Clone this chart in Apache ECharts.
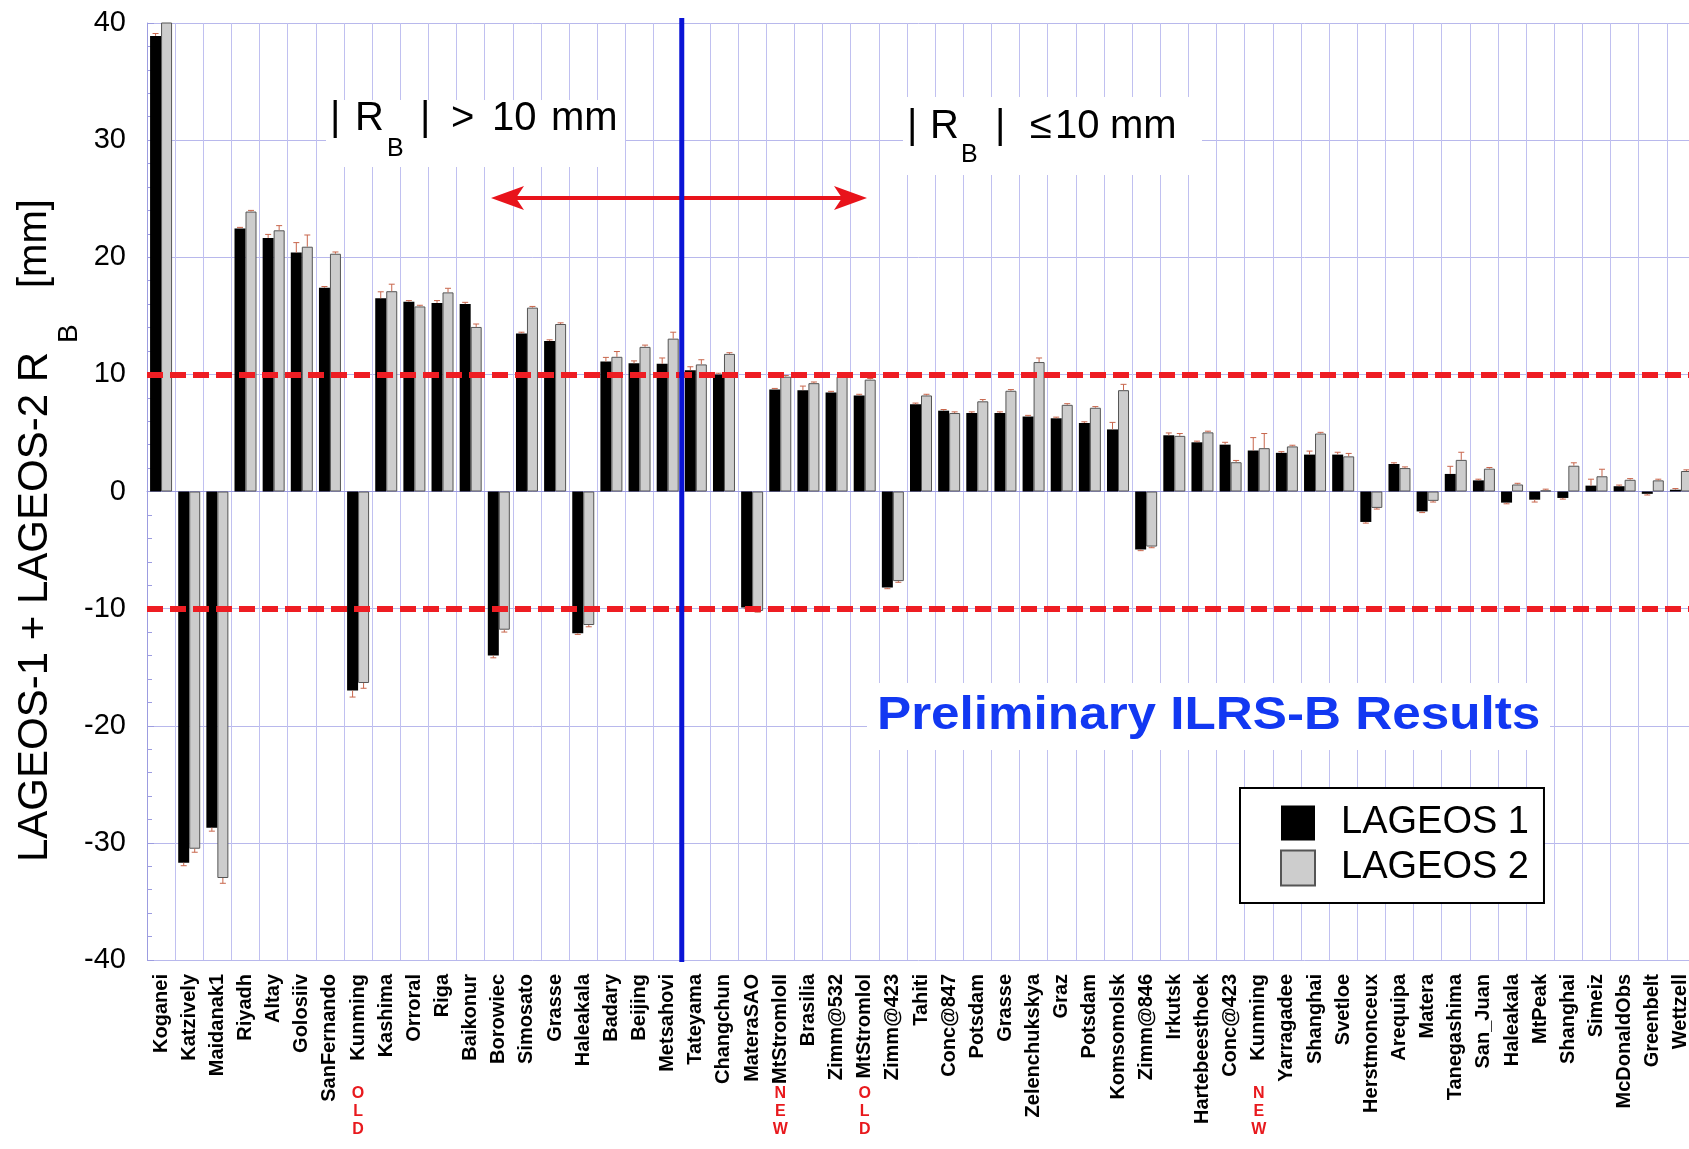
<!DOCTYPE html>
<html><head><meta charset="utf-8">
<script src="https://cdn.jsdelivr.net/npm/echarts@6/dist/echarts.min.js"></script>
<style>html,body{margin:0;padding:0;background:#fff}#c{width:1689px;height:1149px}</style>
</head><body><div id="c"></div>
<script>
// ---------------- DATA ----------------
const categories = ['Koganei','Katzively','Maidanak1','Riyadh','Altay','Golosiiv','SanFernando','Kunming','Kashima','Orroral',
  'Riga','Baikonur','Borowiec','Simosato','Grasse','Haleakala','Badary','Beijing','Metsahovi','Tateyama',
  'Changchun','MateraSAO','MtStromloII','Brasilia','Zimm@532','MtStromlol','Zimm@423','Tahiti','Conc@847','Potsdam',
  'Grasse','Zelenchukskya','Graz','Potsdam','Komsomolsk','Zimm@846','Irkutsk','Hartebeesthoek','Conc@423','Kunming',
  'Yarragadee','Shanghai','Svetloe','Herstmonceux','Arequipa','Matera','Tanegashima','San_Juan','Haleakala','MtPeak',
  'Shanghai','Simeiz','McDonaldObs','Greenbelt','Wettzell'];
const lageos1 = [38.9,-31.7,-28.7,22.45,21.65,20.4,17.4,-17.0,16.5,16.2,
  16.1,16.0,-14.0,13.5,12.85,-12.1,11.1,10.95,10.9,10.35,
  10.0,-9.9,8.7,8.65,8.45,8.2,-8.2,7.45,6.9,6.7,
  6.7,6.4,6.25,5.85,5.3,-4.95,4.8,4.2,4.0,3.5,
  3.3,3.15,3.15,-2.6,2.35,-1.7,1.5,0.95,-0.95,-0.7,
  -0.55,0.5,0.45,-0.2,0.15];
const lageos2 = [40.6,-30.5,-33.0,23.9,22.3,20.9,20.3,-16.35,17.1,15.8,
  17.0,14.05,-11.8,15.7,14.3,-11.4,11.5,12.35,13.05,10.85,
  11.75,-10.2,9.8,9.25,9.8,9.55,-7.65,8.2,6.7,7.7,
  8.6,11.05,7.4,7.15,8.65,-4.7,4.75,5.05,2.5,3.7,
  3.85,4.95,3.0,-1.4,2.0,-0.8,2.7,1.95,0.6,0.1,
  2.2,1.3,1.0,0.95,1.75];
const lageos1Err = [0.2,0.25,0.3,0.1,0.3,0.85,0.1,0.55,0.55,0.1,
  0.2,0.15,0.2,0.1,0.1,0.1,0.35,0.2,0.5,0.3,
  0.1,0.1,0.1,0.35,0.1,0.1,0.1,0.1,0.1,0.1,
  0.1,0.1,0.1,0.1,0.6,0.1,0.2,0.1,0.2,1.1,
  0.1,0.3,0.2,0.1,0.1,0.1,0.65,0.1,0.1,0.2,
  0.1,0.55,0.1,0.1,0.1];
const lageos2Err = [0,0.3,0.45,0.1,0.4,1.0,0.15,0.45,0.6,0.1,
  0.35,0.25,0.2,0.1,0.1,0.15,0.45,0.15,0.55,0.4,
  0.1,0.1,0.1,0.1,0.2,0.1,0.1,0.1,0.1,0.15,
  0.1,0.35,0.1,0.1,0.5,0.1,0.2,0.1,0.15,1.25,
  0.1,0.1,0.25,0.1,0.1,0.1,0.65,0.1,0.1,0.1,
  0.25,0.6,0.1,0.1,0.1];
const yMin = -40, yMax = 40, yInterval = 10;
const thresholds = [10, -10];
const stationNotes = [{index:7,text:'OLD'},{index:22,text:'NEW'},{index:25,text:'OLD'},{index:39,text:'NEW'}];
const splitAfterIndex = 18; // boundary between Metsahovi and Tateyama

// ---------------- STYLE ----------------
const FONT = "'Liberation Sans', Arial, Helvetica, sans-serif";
const BAR_W = 11;
const ERR_C = '#c8664c';
const GRID_C = '#b8b8ec';
const AXIS_C = '#9c9ce0';

function errRenderer(side){
  return function(params, api){
    const i = api.value(0), v = api.value(1), e = api.value(2);
    if (!e) return;
    const dir = v >= 0 ? 1 : -1;
    const p0 = api.coord([i, v]);
    const p1 = api.coord([i, v + dir * e]);
    const x = p0[0] + side * BAR_W / 2;
    return {type:'group', children:[
      {type:'line', shape:{x1:x,y1:p0[1],x2:x,y2:p1[1]}, style:{stroke:ERR_C,lineWidth:1}},
      {type:'line', shape:{x1:x-3,y1:p1[1],x2:x+3,y2:p1[1]}, style:{stroke:ERR_C,lineWidth:1}}
    ]};
  };
}

const chart = echarts.init(document.getElementById('c'), null, {renderer:'canvas'});
chart.setOption({
  animation:false,
  backgroundColor:'#fff',
  grid:{left:147, top:23, width:1548, height:937, containLabel:false, outerBoundsMode:'none'},
  xAxis:{type:'category', data:categories, boundaryGap:true,
    axisLine:{show:true, lineStyle:{color:AXIS_C,width:1}},
    axisTick:{show:false},
    splitLine:{show:true, interval:0, lineStyle:{color:'#c0c0f0',width:1}},
    axisLabel:{interval:0, rotate:90, margin:14, fontFamily:FONT, fontWeight:'bold', fontSize:20, color:'#000'}
  },
  yAxis:{type:'value', min:yMin, max:yMax, interval:yInterval,
    axisLine:{show:true, lineStyle:{color:AXIS_C,width:1}},
    axisTick:{show:true, inside:true, length:7, lineStyle:{color:AXIS_C}},
    minorTick:{show:true, splitNumber:5, length:5, lineStyle:{color:AXIS_C}},
    splitLine:{show:true, lineStyle:{color:GRID_C,width:1}},
    axisLabel:{fontFamily:FONT, fontSize:29, color:'#000', margin:21}
  },
  legend:{orient:'vertical', left:1240, top:788, padding:[16,15,16,40],
    itemWidth:34, itemHeight:35, itemGap:7, icon:'rect', selectedMode:false,
    backgroundColor:'#fff', borderColor:'#000', borderWidth:2,
    textStyle:{fontFamily:FONT, fontSize:38, color:'#000', lineHeight:35, padding:[0,0,0,21]},
    data:['LAGEOS 1','LAGEOS 2']},
  series:[
    {name:'LAGEOS 1', type:'bar', data:lageos1, barWidth:BAR_W, barGap:'0%', clip:true,
      itemStyle:{color:'#000', borderColor:'#000', borderWidth:0}},
    {name:'LAGEOS 2', type:'bar', data:lageos2, barWidth:BAR_W, barGap:'0%', clip:true,
      itemStyle:{color:'#cdcdcd', borderColor:'#555', borderWidth:1}},
    {name:'err1', type:'custom', z:4, silent:true, clip:true,
      data:lageos1.map((v,i)=>[i,v,lageos1Err[i]]), encode:{x:0,y:1}, renderItem:errRenderer(-1)},
    {name:'err2', type:'custom', z:4, silent:true, clip:true,
      data:lageos2.map((v,i)=>[i,v,lageos2Err[i]]), encode:{x:0,y:1}, renderItem:errRenderer(1),
      markLine:{silent:true, symbol:'none', z:6, label:{show:false},
        lineStyle:{color:'#ee1d23', width:6, type:[16,7]},
        data:thresholds.map(t=>({yAxis:t}))}}
  ]
});

// ---------------- ANNOTATIONS ----------------
function txt(x,y,text,size,opts){
  opts = opts || {};
  return {type:'text', x:x, y:y, z:opts.z||20, scaleX:opts.scaleX||1,
    style:{text:text, fontFamily:FONT, fontSize:size, fontWeight:opts.weight||'normal',
      fill:opts.fill||'#000', textAlign:opts.align||'left', align:opts.align||'left',
      textVerticalAlign:opts.valign||'middle', verticalAlign:opts.valign||'middle',
      lineHeight:opts.lineHeight}};
}
const xA = chart.convertToPixel({xAxisIndex:0}, splitAfterIndex);
const xB = chart.convertToPixel({xAxisIndex:0}, splitAfterIndex+1);
const xSplit = (xA + xB) / 2;

const graphics = [
  // white boxes
  {type:'rect', z:1, shape:{x:326,y:100,width:299,height:67}, style:{fill:'#fff'}},
  {type:'rect', z:1, shape:{x:903,y:97,width:299,height:78}, style:{fill:'#fff'}},
  {type:'rect', z:1, shape:{x:867,y:683,width:683,height:67}, style:{fill:'#fff'}},
  // |R_B| > 10 mm
  txt(330,119,'|',40), txt(355,119,'R',40), txt(387,149,'B',25), txt(420,119,'|',40),
  txt(451,119,'>',40), txt(492,119,'10',40), txt(551,119,'mm',40),
  // |R_B| <= 10 mm
  txt(907,126.5,'|',40), txt(930,126.5,'R',40), txt(961,155,'B',25), txt(995,126.5,'|',40),
  txt(1030,126.5,'\u2264',40), txt(1055,126.5,'10',40), txt(1110,126.5,'mm',40),
  // Preliminary
  txt(877,716,'Preliminary ILRS-B Results',47,{weight:'bold', fill:'#1238f2', scaleX:1.09}),
  // y axis title
  {type:'group', x:35, y:862, rotation:Math.PI/2, z:20, children:[
    txt(0,0,'LAGEOS-1 + LAGEOS-2 R',42),
    txt(519,34,'B',28),
    txt(574,0,'[mm]',40)
  ]},
  // red double arrow
  {type:'line', z:15, shape:{x1:512,y1:198,x2:846,y2:198}, style:{stroke:'#e8131b', lineWidth:4}},
  {type:'polygon', z:15, shape:{points:[[491,198],[524,186],[516,198],[524,210]]}, style:{fill:'#e8131b'}},
  {type:'polygon', z:15, shape:{points:[[867,198],[834,186],[842,198],[834,210]]}, style:{fill:'#e8131b'}},
  // blue separator
  {type:'line', z:30, shape:{x1:xSplit,y1:18,x2:xSplit,y2:962}, style:{stroke:'#0a14d6', lineWidth:5}}
];
stationNotes.forEach(n=>{
  const x = chart.convertToPixel({xAxisIndex:0}, n.index);
  graphics.push(txt(x,1085,n.text.split('').join('\n'),16,{weight:'bold', fill:'#e8191d', align:'center', valign:'top', lineHeight:18}));
});
chart.setOption({graphic:graphics});
</script>
</body></html>
